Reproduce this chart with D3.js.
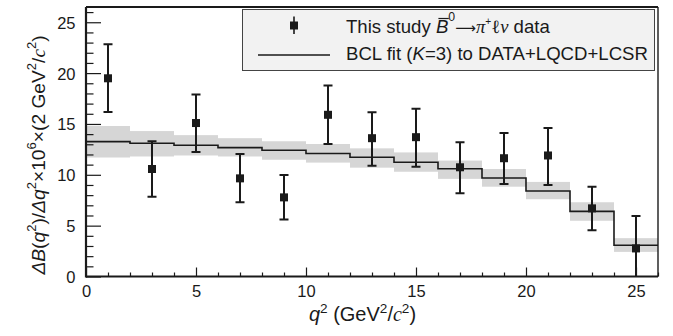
<!DOCTYPE html>
<html>
<head>
<meta charset="utf-8">
<script src="https://cdn.jsdelivr.net/npm/d3@7"></script>
<style>
  html, body { margin: 0; padding: 0; background: #fff; }
  svg { display: block; }
  text { font-family: "Liberation Sans", Arial, Helvetica, sans-serif; fill: #1a1a1a; }
</style>
</head>
<body>
<svg id="chart" width="673" height="336"></svg>
<script>
// Measured partial branching fractions in q^2 bins (centres, values, error bar ends)
const binCentres = [1, 3, 5, 7, 9, 11, 13, 15, 17, 19, 21, 23, 25];
const dataValue  = [19.49, 10.57, 15.09, 9.65, 7.78, 15.9, 13.6, 13.7, 10.74, 11.63, 11.9, 6.7, 2.76];
const dataLow    = [16.17, 7.84, 12.24, 7.3, 5.6, 13.03, 10.9, 10.8, 8.18, 9.1, 9.0, 4.56, -0.5];
const dataHigh   = [22.83, 13.3, 17.9, 12.05, 9.98, 18.78, 16.15, 16.5, 13.2, 14.1, 14.6, 8.83, 5.94];

// BCL fit prediction per bin and its uncertainty band
const binEdges = [0, 2, 4, 6, 8, 10, 12, 14, 16, 18, 20, 22, 24, 26];
const fitValue = [13.26, 13.1, 12.9, 12.67, 12.42, 12.1, 11.72, 11.23, 10.6, 9.68, 8.4, 6.4, 3.08];
const fitLow   = [11.7, 11.8, 11.9, 11.8, 11.48, 11.2, 10.7, 10.3, 9.6, 8.83, 7.6, 5.48, 2.42];
const fitHigh  = [14.8, 14.3, 13.9, 13.6, 13.3, 13.03, 12.6, 12.2, 11.4, 10.57, 9.3, 7.3, 3.77];

// Axis ticks
const xMajorTicks = [0, 5, 10, 15, 20, 25];
const yMajorTicks = [0, 5, 10, 15, 20, 25];
const xMinorTicks = d3.range(0, 27, 1);
const yMinorTicks = d3.range(0, 27, 1);

const svg = d3.select("#chart");
const padL = 86, padR = 658, padT = 7, padB = 276.5;

const x = d3.scaleLinear().domain([0, 26]).range([padL, padR]);
const y = d3.scaleLinear().domain([0, 26.5]).range([padB, padT]);

const ink = "#1a1a1a";
const tickFont = 16.5;

svg.append("clipPath").attr("id", "plotClip")
  .append("rect").attr("x", padL).attr("y", padT)
  .attr("width", padR - padL).attr("height", padB - padT);

const plot = svg.append("g").attr("clip-path", "url(#plotClip)");

// Fit uncertainty band
plot.selectAll("rect.band")
  .data(fitValue.map((v, i) => ({ x0: binEdges[i], x1: binEdges[i + 1], lo: fitLow[i], hi: fitHigh[i] })))
  .join("rect")
  .attr("class", "band")
  .attr("x", d => x(d.x0))
  .attr("width", d => x(d.x1) - x(d.x0))
  .attr("y", d => y(d.hi))
  .attr("height", d => y(d.lo) - y(d.hi))
  .attr("fill", "#d6d6d6");

// Fit histogram as a step line
const stepPts = [];
fitValue.forEach((v, i) => { stepPts.push([binEdges[i], v]); stepPts.push([binEdges[i + 1], v]); });
plot.append("path")
  .datum(stepPts)
  .attr("d", d3.line().x(d => x(d[0])).y(d => y(d[1])))
  .attr("fill", "none")
  .attr("stroke", ink)
  .attr("stroke-width", 1.6);

// Data points with error bars
const pts = binCentres.map((c, i) => ({ c, v: dataValue[i], lo: dataLow[i], hi: dataHigh[i] }));
const pg = plot.selectAll("g.pt").data(pts).join("g").attr("class", "pt");
pg.append("line")
  .attr("x1", d => x(d.c)).attr("x2", d => x(d.c))
  .attr("y1", d => y(d.lo)).attr("y2", d => y(d.hi))
  .attr("stroke", ink).attr("stroke-width", 2);
pg.append("line")
  .attr("x1", d => x(d.c) - 4.5).attr("x2", d => x(d.c) + 4.5)
  .attr("y1", d => y(d.hi)).attr("y2", d => y(d.hi))
  .attr("stroke", ink).attr("stroke-width", 2);
pg.append("line")
  .attr("x1", d => x(d.c) - 4.5).attr("x2", d => x(d.c) + 4.5)
  .attr("y1", d => y(d.lo)).attr("y2", d => y(d.lo))
  .attr("stroke", ink).attr("stroke-width", 2);
pg.append("rect")
  .attr("x", d => x(d.c) - 4).attr("y", d => y(d.v) - 4)
  .attr("width", 8).attr("height", 8)
  .attr("fill", ink);

// Axes: ticks drawn inward
const axes = svg.append("g");
const xAxis = d3.axisBottom(x).tickValues(xMajorTicks).tickSizeInner(-9).tickSizeOuter(0)
  .tickFormat(d3.format("d"));
const gx = axes.append("g").attr("transform", `translate(0,${padB})`).call(xAxis);
gx.select(".domain").remove();
gx.selectAll(".tick line").attr("stroke", ink).attr("stroke-width", 1.2);
gx.selectAll(".tick text").attr("font-size", tickFont).attr("fill", ink)
  .attr("font-family", "Liberation Sans, Arial, sans-serif")
  .attr("y", 8.5).attr("dy", "0.71em");

const xMinor = d3.axisBottom(x).tickValues(xMinorTicks.filter(v => v % 5 !== 0)).tickSize(-4).tickFormat("");
const gxm = axes.append("g").attr("transform", `translate(0,${padB})`).call(xMinor);
gxm.select(".domain").remove();
gxm.selectAll(".tick line").attr("stroke", ink).attr("stroke-width", 1.2);

const yAxis = d3.axisLeft(y).tickValues(yMajorTicks).tickSizeInner(-15).tickSizeOuter(0)
  .tickFormat(d3.format("d"));
const gy = axes.append("g").attr("transform", `translate(${padL},0)`).call(yAxis);
gy.select(".domain").remove();
gy.selectAll(".tick line").attr("stroke", ink).attr("stroke-width", 1.2);
gy.selectAll(".tick text").attr("font-size", tickFont).attr("fill", ink)
  .attr("font-family", "Liberation Sans, Arial, sans-serif")
  .attr("x", -10.5).attr("dy", "0.36em");

const yMinor = d3.axisLeft(y).tickValues(yMinorTicks.filter(v => v % 5 !== 0)).tickSize(-7.5).tickFormat("");
const gym = axes.append("g").attr("transform", `translate(${padL},0)`).call(yMinor);
gym.select(".domain").remove();
gym.selectAll(".tick line").attr("stroke", ink).attr("stroke-width", 1.2);

// Frame
axes.append("line").attr("x1", padL).attr("x2", padR).attr("y1", padB).attr("y2", padB)
  .attr("stroke", ink).attr("stroke-width", 2.2);
axes.append("line").attr("x1", padL).attr("x2", padL).attr("y1", padT).attr("y2", padB + 1)
  .attr("stroke", ink).attr("stroke-width", 2.2);
axes.append("line").attr("x1", padL).attr("x2", padR).attr("y1", padT).attr("y2", padT)
  .attr("stroke", ink).attr("stroke-width", 2);
axes.append("line").attr("x1", padR).attr("x2", padR).attr("y1", padT).attr("y2", padB)
  .attr("stroke", ink).attr("stroke-width", 1.4);

// Rich text helper: segments with italic / superscript / serif options
function rich(sel, segs, size) {
  let lift = 0;
  segs.forEach(s => {
    const t = sel.append("tspan").text(s.t);
    if (s.it) t.attr("font-style", "italic");
    if (s.font) t.attr("font-family", s.font);
    else if (s.serif) t.attr("font-family", "Liberation Serif, Times New Roman, serif");
    const want = s.sup ? (s.raise || 0.42) * size : 0;
    if (want !== lift) { t.attr("dy", lift - want); lift = want; }
    if (s.sup) t.attr("font-size", size * (s.small || 0.68));
    else if (s.size) t.attr("font-size", s.size);
  });
  return sel;
}

// Axis titles
const xt = svg.append("text").attr("x", 362.5).attr("y", 321).attr("text-anchor", "middle")
  .attr("font-size", 20);
rich(xt, [
  { t: "q", it: true }, { t: "2", sup: true }, { t: " (GeV" }, { t: "2", sup: true },
  { t: "/" }, { t: "c", it: true, serif: true }, { t: "2", sup: true }, { t: ")" }
], 20);

const yTitleFont = 19.2;
const yt = svg.append("text").attr("transform", "translate(44.5,155) rotate(-90)")
  .attr("text-anchor", "middle").attr("font-size", yTitleFont);
rich(yt, [
  { t: "ΔB", it: true }, { t: "(" }, { t: "q", it: true }, { t: "2", sup: true },
  { t: ")/" }, { t: "Δq", it: true }, { t: "2", sup: true }, { t: "×10" },
  { t: "6", sup: true }, { t: "×(2 GeV" }, { t: "2", sup: true }, { t: "/" },
  { t: "c", it: true, serif: true }, { t: "2", sup: true }, { t: ")" }
], yTitleFont);

// Legend
const lg = svg.append("g");
lg.append("rect").attr("x", 242.5).attr("y", 9.5).attr("width", 412).attr("height", 61)
  .attr("fill", "#f2f2f2").attr("stroke", "#444").attr("stroke-width", 1);
// data entry marker
lg.append("line").attr("x1", 294).attr("x2", 294).attr("y1", 16.5).attr("y2", 34)
  .attr("stroke", ink).attr("stroke-width", 1.6);
lg.append("rect").attr("x", 290).attr("y", 21.5).attr("width", 8).attr("height", 8).attr("fill", ink);
// fit entry line
lg.append("line").attr("x1", 258).attr("x2", 330).attr("y1", 55).attr("y2", 55)
  .attr("stroke", ink).attr("stroke-width", 1.6);

const legendFont = 18.6;
const l1 = lg.append("text").attr("x", 346).attr("y", 32.5).attr("font-size", legendFont);
rich(l1, [
  { t: "This study " }, { t: "B", it: true },
  { t: "0", sup: true, small: 0.66, raise: 0.64 },
  { t: "⟶", font: "DejaVu Sans", size: 14.5 },
  { t: "π", serif: true, it: true }, { t: "+", sup: true, small: 0.55, raise: 0.38 },
  { t: "ℓ", serif: true }, { t: "ν", serif: true, it: true }, { t: " data" }
], legendFont);
// overline on the B meson symbol
const bExt = l1.node().getExtentOfChar(11);
lg.append("line").attr("x1", bExt.x + 2.5).attr("x2", bExt.x + bExt.width + 0.5)
  .attr("y1", 18.5).attr("y2", 18.5).attr("stroke", ink).attr("stroke-width", 1.2);

const l2 = lg.append("text").attr("x", 346).attr("y", 60).attr("font-size", legendFont);
rich(l2, [
  { t: "BCL fit (" }, { t: "K", it: true }, { t: "=3) to DATA+LQCD+LCSR" }
], legendFont);
</script>
</body>
</html>
